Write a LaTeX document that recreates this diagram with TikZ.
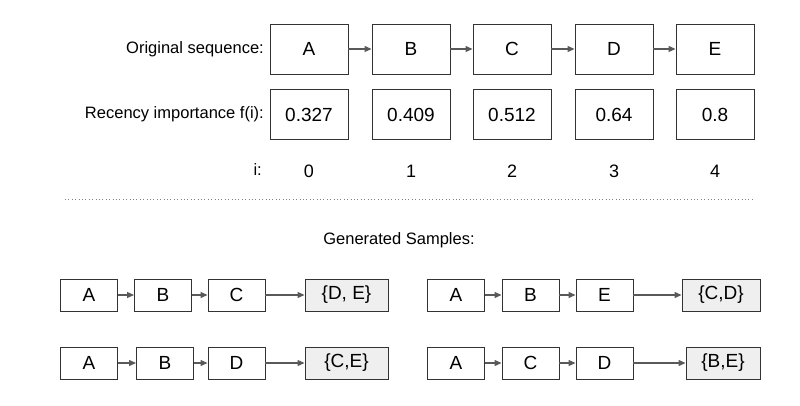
\documentclass[tikz,border=0pt]{standalone}
\usepackage{fontspec}
\setmainfont{Liberation Sans}
\usetikzlibrary{arrows.meta}
\definecolor{arrowgray}{HTML}{595959}
\definecolor{boxborder}{HTML}{333333}
\definecolor{samplefill}{HTML}{EFEFEF}
\tikzset{
  bigbox/.style={draw=boxborder, line width=0.9pt, minimum width=78pt, minimum height=50pt, inner sep=0pt, font=\fontsize{19}{22}\selectfont},
  smallbox/.style={draw=boxborder, line width=0.9pt, minimum width=57pt, minimum height=32pt, inner sep=0pt, font=\fontsize{19}{22}\selectfont},
  setbox/.style={smallbox, fill=samplefill},
  lbl/.style={anchor=east, inner sep=0pt, font=\fontsize{16.5}{20}\selectfont},
  idx/.style={inner sep=0pt, font=\fontsize{18}{21}\selectfont},
  link/.style={draw=arrowgray, line width=1.1pt, -{Triangle[length=7pt,width=6pt]}}
}
\begin{document}
\begin{tikzpicture}[x=1pt,y=-1pt]
\useasboundingbox (0,0) rectangle (800,406);
% top row
\node[bigbox] (o1) at (309,49) {A};
\node[bigbox] (o2) at (411,49) {B};
\node[bigbox] (o3) at (512,49) {C};
\node[bigbox] (o4) at (614,49) {D};
\node[bigbox] (o5) at (715,49) {E};
\foreach \a/\b in {o1/o2,o2/o3,o3/o4,o4/o5} \draw[link] (\a) -- (\b);
\node[lbl] (l1) at (264,49) {Original sequence:};
% values
\node[bigbox] (v1) at (309,114.5) {0.327};
\node[bigbox] (v2) at (411,114.5) {0.409};
\node[bigbox] (v3) at (512,114.5) {0.512};
\node[bigbox] (v4) at (614,114.5) {0.64};
\node[bigbox] (v5) at (715,114.5) {0.8};
\node[lbl] (l2) at (264,114.5) {Recency importance f(i):};
% indices
\node[idx] (i1) at (309,171) {0};
\node[idx] (i2) at (411,171) {1};
\node[idx] (i3) at (512,171) {2};
\node[idx] (i4) at (614,171) {3};
\node[idx] (i5) at (715,171) {4};
\node[lbl] (l3) at (262,170) {i:};
% separator
\coordinate (s1) at (65,199);
\coordinate (s2) at (752,199);
\draw[gray, line width=0.8pt, dash pattern=on 0.8pt off 2.6pt] (s1) -- (s2);
\node[idx, font=\fontsize{16.5}{20}\selectfont] (gs) at (399,240) {Generated Samples:};
% sample 1
\node[smallbox] (a1) at (89,295) {A};
\node[smallbox] (a2) at (163,295) {B};
\node[smallbox] (a3) at (236.5,295) {C};
\node[setbox, minimum width=83pt] (a4) at (346.5,295) {\{D, E\}};
\foreach \a/\b in {a1/a2,a2/a3,a3/a4} \draw[link] (\a) -- (\b);
% sample 2
\node[smallbox] (b1) at (456,295) {A};
\node[smallbox] (b2) at (530.5,295) {B};
\node[smallbox] (b3) at (604.5,295) {E};
\node[setbox, minimum width=78pt] (b4) at (721,295) {\{C,D\}};
\foreach \a/\b in {b1/b2,b2/b3,b3/b4} \draw[link] (\a) -- (\b);
% sample 3
\node[smallbox] (c1) at (89,363) {A};
\node[smallbox] (c2) at (165,363) {B};
\node[smallbox] (c3) at (236.5,363) {D};
\node[setbox, minimum width=83pt] (c4) at (346.5,363) {\{C,E\}};
\foreach \a/\b in {c1/c2,c2/c3,c3/c4} \draw[link] (\a) -- (\b);
% sample 4
\node[smallbox] (d1) at (456,363) {A};
\node[smallbox] (d2) at (530.5,363) {C};
\node[smallbox] (d3) at (604.5,363) {D};
\node[setbox, minimum width=74pt] (d4) at (723,363) {\{B,E\}};
\foreach \a/\b in {d1/d2,d2/d3,d3/d4} \draw[link] (\a) -- (\b);
\end{tikzpicture}
\end{document}
